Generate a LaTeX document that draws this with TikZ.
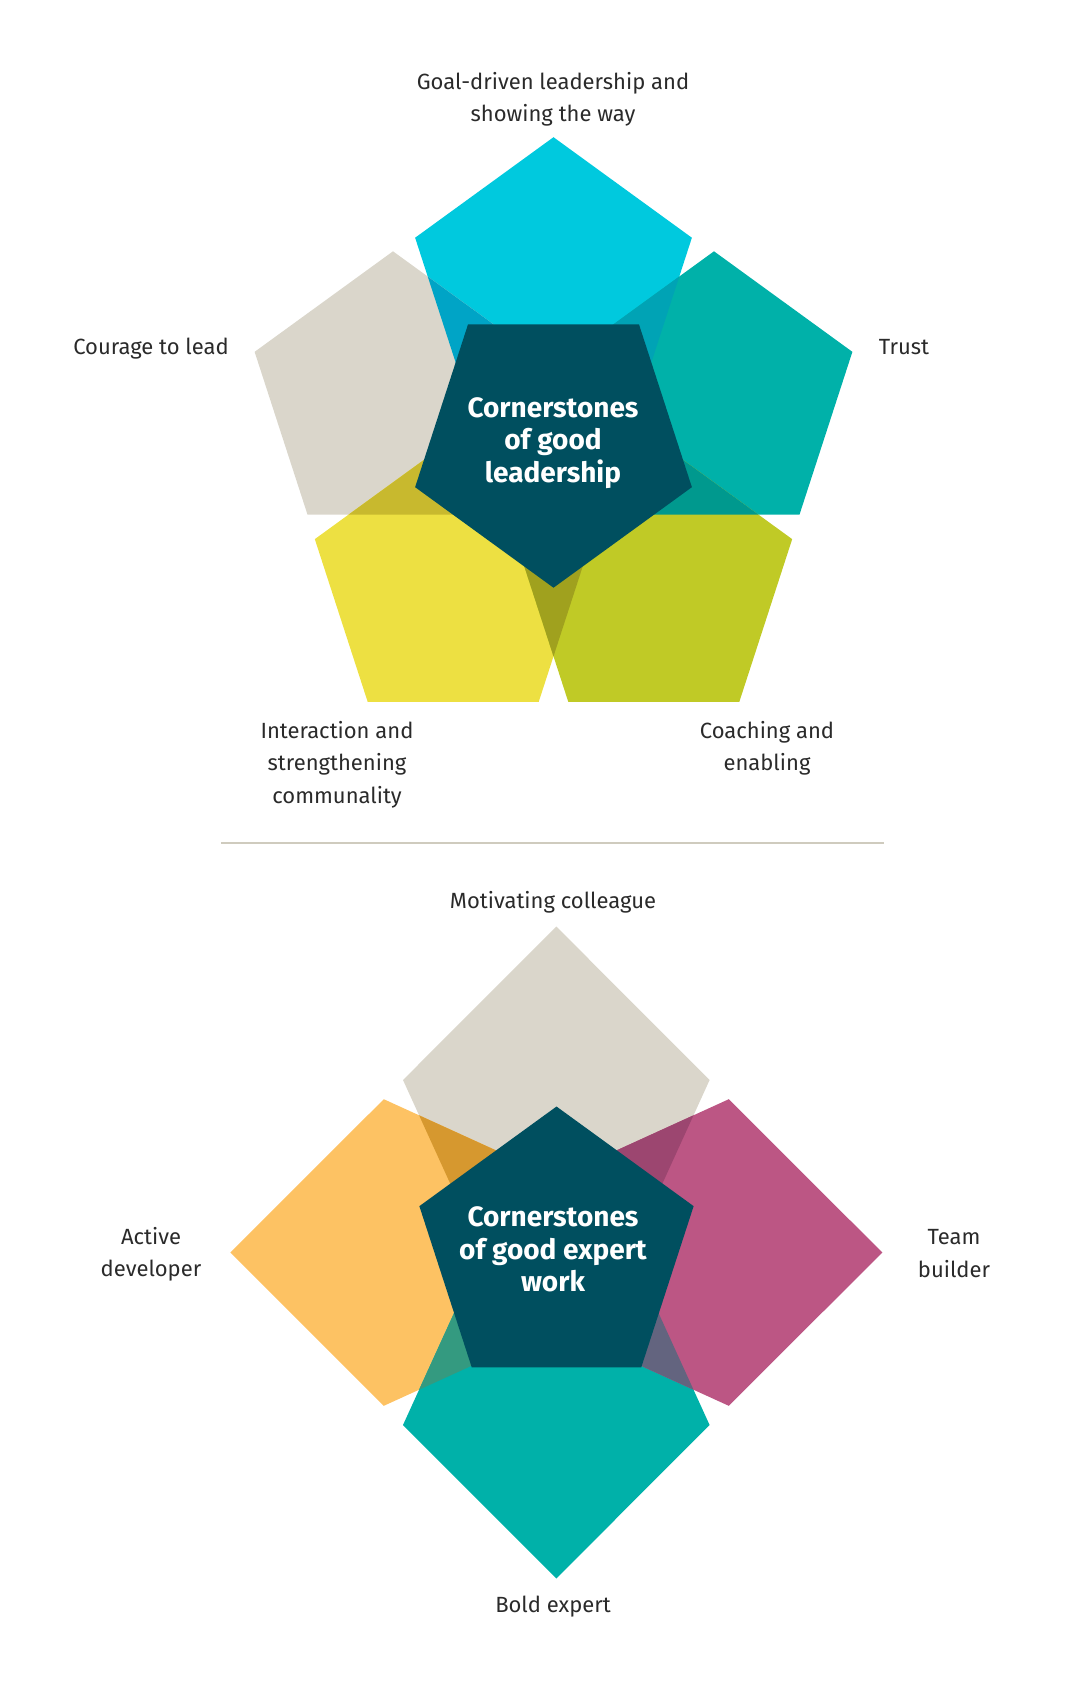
\documentclass[tikz,border=0pt]{standalone}
\usepackage{fontspec}
\setmainfont{Fira Sans}

\definecolor{cyanC}{HTML}{00C9DE}
\definecolor{stoneC}{HTML}{DAD6CB}
\definecolor{tealC}{HTML}{00B1A9}
\definecolor{yellowC}{HTML}{EDE042}
\definecolor{oliveC}{HTML}{C0CA26}
\definecolor{darkC}{HTML}{004F5F}
\definecolor{orangeC}{HTML}{FDC263}
\definecolor{pinkC}{HTML}{BC5684}
\definecolor{cyanStoneC}{HTML}{00A4C6}
\definecolor{cyanTealC}{HTML}{00A3B5}
\definecolor{stoneYellowC}{HTML}{C8B92E}
\definecolor{tealOliveC}{HTML}{00998E}
\definecolor{yellowOliveC}{HTML}{A0A11E}
\definecolor{orangeStoneC}{HTML}{D6982F}
\definecolor{pinkStoneC}{HTML}{9C4670}
\definecolor{orangeTealC}{HTML}{349A80}
\definecolor{pinkTealC}{HTML}{63647F}
\definecolor{captionC}{HTML}{2A2A2A}
\definecolor{dividerC}{HTML}{CFCBBE}

% regular pentagon, apex up
\newcommand{\pentpath}{(90:145.5) -- (162:145.5) -- (234:145.5) -- (306:145.5) -- (18:145.5) -- cycle}
% petal of the lower figure, apex up
\newcommand{\kitepath}{(0,326) -- (153.3,172.5) -- (47.3,-60) -- (-47.3,-60) -- (-153.3,172.5) -- cycle}

\begin{document}
\begin{tikzpicture}[x=1pt, y=1pt]
    % Define styles
    \tikzstyle{caption} = [text=captionC, align=center, font=\fontsize{22}{32.3}\selectfont]
    \tikzstyle{heading} = [text=white, align=center, font=\fontsize{28}{32.3}\selectfont\bfseries]
    \tikzstyle{divider} = [draw=dividerC, line width=2pt]

    \useasboundingbox (0,0) rectangle (1090,-1690);

    % Centres, upper figure
    \coordinate (core) at (553.5,-442.2);
    \coordinate (goalc) at (553.5,-282.7);
    \coordinate (couragec) at (393,-396.8);
    \coordinate (trustc) at (714,-396.8);
    \coordinate (interc) at (453.2,-584.1);
    \coordinate (coachc) at (653.8,-584.1);

    % Petals
    \fill[cyanC, shift={(goalc)}] \pentpath;
    \fill[stoneC, shift={(couragec)}] \pentpath;
    \fill[tealC, shift={(trustc)}] \pentpath;
    \fill[yellowC, shift={(interc)}] \pentpath;
    \fill[oliveC, shift={(coachc)}] \pentpath;

    % Overlaps
    \begin{scope}
        \clip[shift={(goalc)}] \pentpath;
        \fill[cyanStoneC, shift={(couragec)}] \pentpath;
        \fill[cyanTealC, shift={(trustc)}] \pentpath;
    \end{scope}
    \begin{scope}
        \clip[shift={(couragec)}] \pentpath;
        \fill[stoneYellowC, shift={(interc)}] \pentpath;
    \end{scope}
    \begin{scope}
        \clip[shift={(trustc)}] \pentpath;
        \fill[tealOliveC, shift={(coachc)}] \pentpath;
    \end{scope}
    \begin{scope}
        \clip[shift={(interc)}] \pentpath;
        \fill[yellowOliveC, shift={(coachc)}] \pentpath;
    \end{scope}

    % Core
    \fill[darkC, shift={(core)}, rotate=180] \pentpath;
    \node[heading] (leadtitle) at (553,-443) {Cornerstones\\of good\\leadership};

    % Labels
    \node[caption] (goal) at (553,-99.5) {Goal-driven leadership and\\showing the way};
    \node[caption] (courage) at (151,-349) {Courage to lead};
    \node[caption] (trust) at (904,-347) {Trust};
    \node[caption] (interaction) at (337,-764.5) {Interaction and\\strengthening\\communality};
    \node[caption] (coaching) at (767,-748) {Coaching and\\enabling};

    % Divider
    \coordinate (rulel) at (221,-843);
    \coordinate (ruler) at (884,-843);
    \draw[divider] (rulel) -- (ruler);

    % Centres, lower figure
    \coordinate (hub) at (556.3,-1252.5);
    \coordinate (hubcore) at (556.5,-1250.7);

    % Petals
    \fill[stoneC, shift={(hub)}] \kitepath;
    \fill[orangeC, shift={(hub)}, rotate=90] \kitepath;
    \fill[tealC, shift={(hub)}, rotate=180] \kitepath;
    \fill[pinkC, shift={(hub)}, rotate=-90] \kitepath;

    % Overlaps
    \begin{scope}
        \clip[shift={(hub)}] \kitepath;
        \fill[orangeStoneC, shift={(hub)}, rotate=90] \kitepath;
        \fill[pinkStoneC, shift={(hub)}, rotate=-90] \kitepath;
    \end{scope}
    \begin{scope}
        \clip[shift={(hub)}, rotate=180] \kitepath;
        \fill[orangeTealC, shift={(hub)}, rotate=90] \kitepath;
        \fill[pinkTealC, shift={(hub)}, rotate=-90] \kitepath;
    \end{scope}

    % Core
    \fill[darkC, shift={(hubcore)}, scale=0.991] \pentpath;
    \node[heading] (experttitle) at (553,-1249.5) {Cornerstones\\of good expert\\work};

    % Labels
    \node[caption] (motivating) at (553,-902.5) {Motivating colleague};
    \node[caption] (active) at (151,-1254.5) {Active\\developer};
    \node[caption] (team) at (954,-1253.5) {Team\\builder};
    \node[caption] (bold) at (553,-1607) {Bold expert};
\end{tikzpicture}
\end{document}
